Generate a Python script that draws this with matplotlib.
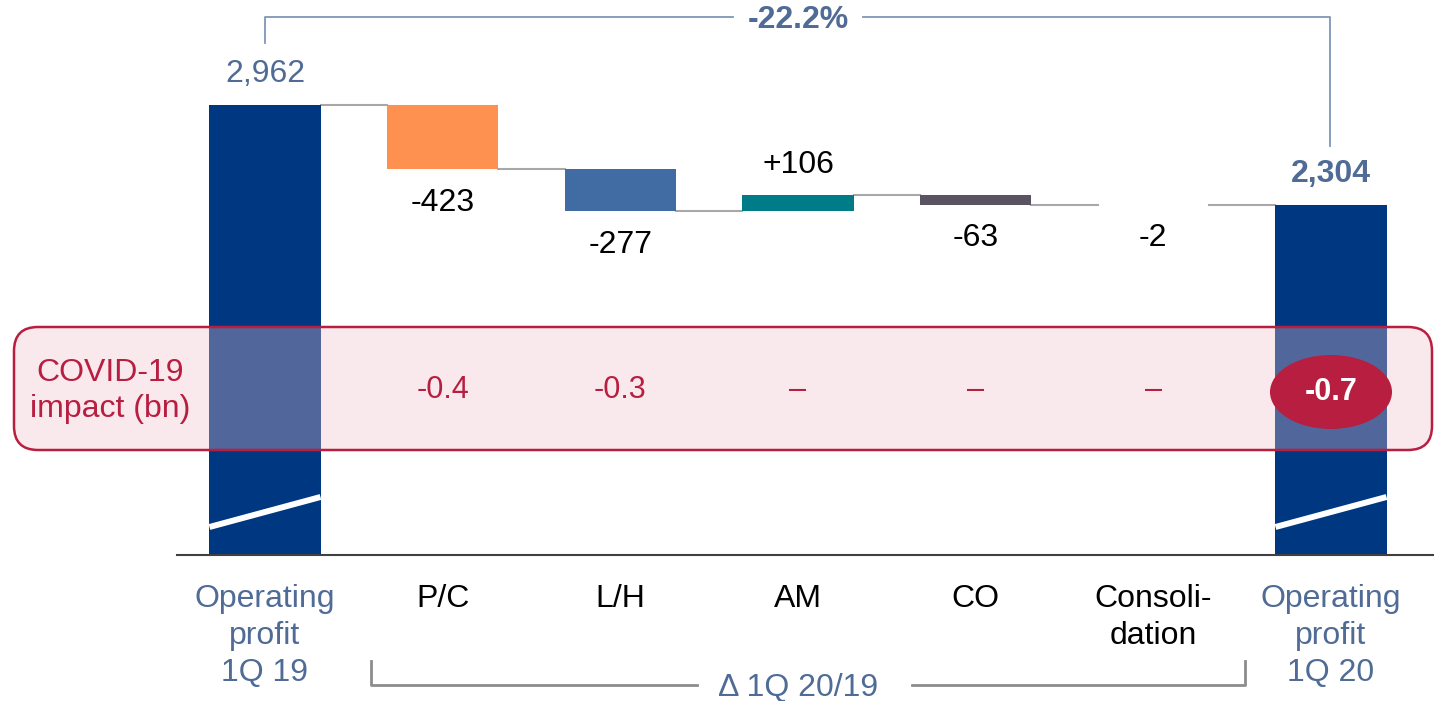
import matplotlib
matplotlib.use('Agg')
import matplotlib.pyplot as plt
import matplotlib.transforms as mtransforms
from matplotlib.patches import FancyBboxPatch, Ellipse

plt.rcParams['font.family'] = ['Liberation Sans', 'DejaVu Sans']

# data
categories = ['Operating\nprofit\n1Q 19', 'P/C', 'L/H', 'AM', 'CO', 'Consoli-\ndation', 'Operating\nprofit\n1Q 20']
start_value = 2962
deltas = [-423, -277, 106, -63, -2]
end_value = 2304
delta_labels = ['-423', '-277', '+106', '-63', '-2']
covid_labels = ['-0.4', '-0.3', '–', '–', '–']
covid_total = '-0.7'
change_pct = '-22.2%'

NAVY = '#003781'
delta_colors = ['#FF9150', '#416BA3', '#007C89', '#5A5462', '#9A9A9A']
LBLUE = '#4F6B96'
CRIMSON = '#B81E40'
W, H = 1434, 701

fig = plt.figure(figsize=(W / 100, H / 100), dpi=100)
ax = fig.add_axes([0, 0, 1, 1])
ax.set_xlim(-1.4915, 6.5797)
ax.set_ylim(-961, 3653)
ax.axis('off')
pix = mtransforms.Affine2D().scale(1, -1).translate(0, H)
k = 450 / start_value  # px per unit

def val(p):
    return (555 - p) / k

bw = 0.625
# end bars
for i, v in [(0, start_value), (6, end_value)]:
    r = ax.bar(i, v, width=bw, color=NAVY, zorder=2)[0]
    ln, = ax.plot([i - bw / 2, i + bw / 2], [val(527), val(497)], color='white',
                  lw=4.3, solid_capstyle='butt', zorder=3)
    ln.set_clip_path(r)

# delta bars
level = start_value
for j, d in enumerate(deltas):
    i = j + 1
    new = level + d
    ax.bar(i, d, bottom=level, width=bw, color=delta_colors[j], zorder=2)
    # connector from previous bar
    ax.plot([i - 1 + bw / 2, i - bw / 2], [level, level], color='#A8A8A8', lw=1.5, zorder=1)
    off = -24 if d < 0 else 22
    ax.annotate(delta_labels[j], (i, new), xytext=(0, off), textcoords='offset points',
                ha='center', va='center', fontsize=23, color='black')
    level = new
ax.plot([5 + bw / 2, 6 - bw / 2], [level, level], color='#A8A8A8', lw=1.5, zorder=1)

ax.annotate(f'{start_value:,}', (0, start_value), xytext=(0, 22), textcoords='offset points',
            ha='center', va='center', fontsize=23, color=LBLUE)
ax.annotate(f'{end_value:,}', (6, end_value), xytext=(0, 22), textcoords='offset points',
            ha='center', va='center', fontsize=23, color=LBLUE, fontweight='bold')

# baseline
ax.plot([177, W], [555, 555], color='#404040', lw=1.5, transform=pix, zorder=4)

# category labels
xt = ax.get_xaxis_transform()
for i, c in enumerate(categories):
    col = LBLUE if i in (0, 6) else 'black'
    ax.text(i, 1 - 584 / H, c, transform=xt, ha='center', va='top', fontsize=23,
            color=col, linespacing=1.31)

# COVID box
box_fill = FancyBboxPatch((14, 327), 1418, 123, boxstyle='round,pad=0,rounding_size=24',
                          transform=pix, facecolor='#F0C1CD', alpha=0.34, edgecolor='none', zorder=5)
box_edge = FancyBboxPatch((14, 327), 1418, 123, boxstyle='round,pad=0,rounding_size=24',
                          transform=pix, facecolor='none', edgecolor=CRIMSON, lw=1.8, zorder=6)
ax.add_patch(box_fill)
ax.add_patch(box_edge)
ax.text(110, 391, 'COVID-19\nimpact (bn)', transform=pix, ha='center', va='center',
        fontsize=23, color=CRIMSON, linespacing=1.25, zorder=7)
for j, s in enumerate(covid_labels):
    ax.text(j + 1, 1 - 390 / H, s, transform=xt, ha='center', va='center', fontsize=22,
            color=CRIMSON, zorder=7)
ax.add_patch(Ellipse((1331, 392), 122, 74, transform=pix, facecolor=CRIMSON,
                     edgecolor='none', zorder=7))
ax.text(6, 1 - 392 / H, covid_total, transform=xt, ha='center', va='center', fontsize=22,
        color='white', fontweight='bold', zorder=8)

# top bracket
bc = '#7F96B5'
ax.plot([265, 265, 733], [43, 17, 17], color=bc, lw=1.3, transform=pix)
ax.plot([863, 1330, 1330], [17, 17, 146], color=bc, lw=1.3, transform=pix)
ax.text(798, 20, change_pct, transform=pix, ha='center', va='center', fontsize=23,
        color=LBLUE, fontweight='bold')

# bottom bracket
gc = '#8C8C8C'
ax.plot([371, 371, 697], [661, 685, 685], color=gc, lw=2, transform=pix)
ax.plot([912, 1245, 1245], [685, 685, 661], color=gc, lw=2, transform=pix)
ax.text(798, 688, 'Δ 1Q 20/19', transform=pix, ha='center', va='center', fontsize=23,
        color=LBLUE)

fig.savefig('out.png', dpi=100)
